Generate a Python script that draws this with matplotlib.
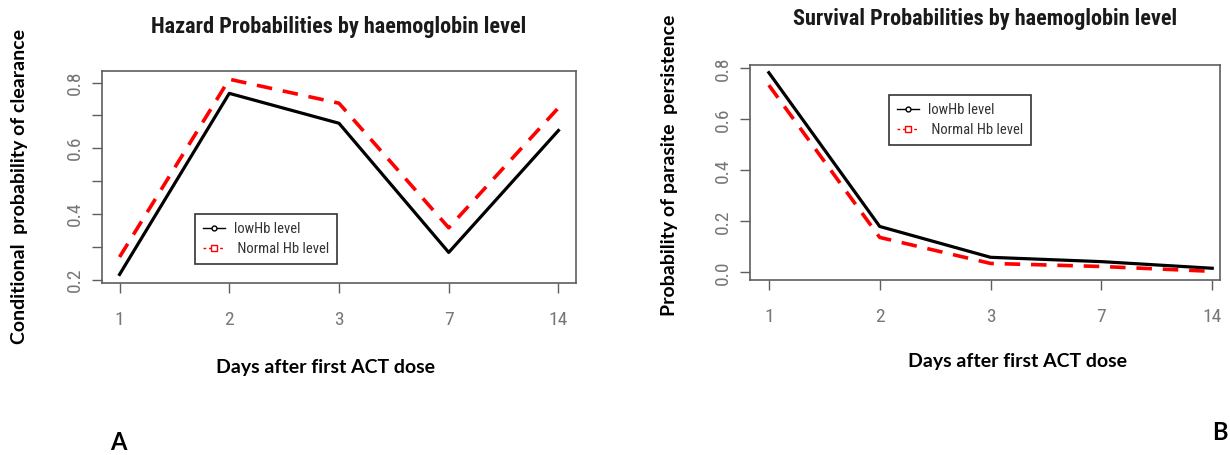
import matplotlib.pyplot as plt
from matplotlib.lines import Line2D

# data
days = ["1", "2", "3", "7", "14"]
hazard_low = [0.216, 0.767, 0.676, 0.283, 0.654]
hazard_normal = [0.269, 0.810, 0.737, 0.358, 0.723]
surv_low = [0.783, 0.180, 0.059, 0.042, 0.016]
surv_normal = [0.734, 0.137, 0.035, 0.023, 0.004]
legend_labels = ["lowHb level", " Normal Hb level"]

narrow = ["Liberation Sans Narrow", "Roboto Condensed", "Liberation Sans"]
calib = ["Lato", "DejaVu Sans"]
grey = "#5e5e5e"

fig = plt.figure(figsize=(12.3, 4.55), dpi=100)
axA = fig.add_axes([102/1230, 1-283/455, 474/1230, 212/455])
axB = fig.add_axes([750/1230, 1-280/455, 470/1230, 215/455])

x = list(range(1, len(days) + 1))
dash = (0, (4.3, 3.0))

def style(ax):
    for s in ax.spines.values():
        s.set_color(grey)
        s.set_linewidth(1.2)
    ax.tick_params(direction="out", length=7, width=1, color=grey,
                   labelcolor="#777777", labelsize=14)
    ax.tick_params(axis="x", pad=13)
    ax.tick_params(axis="y", labelrotation=90, pad=6)
    ax.set_xticks(x)
    ax.set_xticklabels(days, fontfamily=narrow)
    for lab in ax.get_yticklabels():
        lab.set_fontfamily(narrow)
        lab.set_va("center")

# panel A
axA.plot(x, hazard_low, color="black", lw=2.3)
axA.plot(x, hazard_normal, color="red", lw=2.6, linestyle=dash)
axA.set_xlim(0.84, 5.16)
axA.set_ylim(0.19, 0.835)
yt = [0.2, 0.3, 0.4, 0.5, 0.6, 0.7, 0.8]
axA.set_yticks(yt)
axA.set_yticklabels(["0.2", "", "0.4", "", "0.6", "", "0.8"])
style(axA)
axA.set_title("Hazard Probabilities by haemoglobin level", fontfamily=narrow,
              fontweight="bold", fontsize=16, color="#1a1a1a", pad=27)

# panel B
axB.plot(x, surv_low, color="black", lw=2.3)
axB.plot(x, surv_normal, color="red", lw=2.6, linestyle=dash)
axB.set_xlim(0.83, 5.07)
axB.set_ylim(-0.03, 0.813)
axB.set_yticks([0.0, 0.2, 0.4, 0.6, 0.8])
axB.set_yticklabels(["0.0", "0.2", "0.4", "0.6", "0.8"])
style(axB)
axB.set_title("Survival Probabilities by haemoglobin level", fontfamily=narrow,
              fontweight="bold", fontsize=16, color="#1a1a1a", pad=29)

handles = [
    Line2D([], [], color="black", lw=1, marker="o", markersize=3.5,
           markerfacecolor="white", markeredgecolor="black"),
    Line2D([], [], color="red", lw=1, linestyle=(0, (2, 2)), marker="s",
           markersize=4, markerfacecolor="white", markeredgecolor="red"),
]

def add_legend(ax, left, top):
    leg = ax.legend(handles, legend_labels, loc="upper left",
                    bbox_to_anchor=(left/1230, 1-top/455),
                    bbox_transform=fig.transFigure,
                    prop={"family": narrow, "size": 10.5},
                    labelcolor="#333333", fancybox=False, framealpha=1,
                    edgecolor="#333333", handlelength=1.5, handletextpad=0.6,
                    labelspacing=0.4, borderpad=0.55, borderaxespad=0)
    leg.get_frame().set_linewidth(1.2)

add_legend(axA, 195, 214)
add_legend(axB, 889, 95)

# axis titles
fig.text(325/1230, 1-368/455, "Days after first ACT dose", family=calib,
         fontweight="bold", fontsize=14, ha="center", va="center")
fig.text(1018/1230, 1-362/455, "Days after first ACT dose", family=calib,
         fontweight="bold", fontsize=14, ha="center", va="center")
fig.text(20/1230, 1-186/455, "Conditional  probability of clearance",
         family=calib, fontweight="bold", fontsize=14, rotation=90,
         ha="center", va="center")
fig.text(670/1230, 1-165/455, "Probability of parasite  persistence",
         family=calib, fontweight="bold", fontsize=14, rotation=90,
         ha="center", va="center")

fig.text(118/1230, 1-443/455, "A", family=calib, fontweight="bold",
         fontsize=17, ha="center", va="center")
fig.text(1220/1230, 1-432/455, "B", family=calib, fontweight="bold",
         fontsize=17, ha="center", va="center")

fig.savefig("out.png", dpi=100)
